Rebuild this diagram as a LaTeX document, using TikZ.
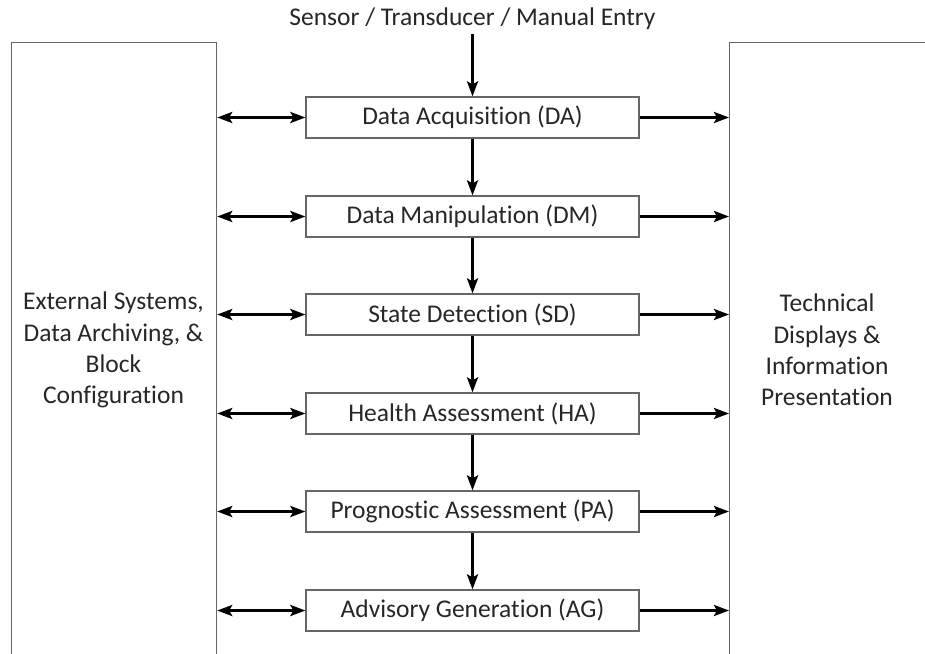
\documentclass[tikz,border=0pt]{standalone}
\usepackage{fontspec}
\setmainfont{Carlito}[Ligatures=NoCommon]
\usetikzlibrary{arrows.meta}
\begin{document}
\begin{tikzpicture}[x=1pt,y=-1pt,
  every node/.style={font=\fontsize{25.5}{31.3}\selectfont, text=black!85},
  stage/.style={draw=black!60, line width=1.2pt, minimum width=333pt, minimum height=41pt, inner sep=0pt, anchor=center},
  panel/.style={draw=black!60, line width=1.2pt, inner sep=0pt, anchor=north west},
  flow/.style={line width=2.8pt, -{Stealth[length=15pt,width=11pt,inset=3pt]}},
  both/.style={line width=2.8pt, {Stealth[length=15pt,width=11pt,inset=3pt]}-{Stealth[length=15pt,width=11pt,inset=3pt]}}]
\useasboundingbox (0,0) rectangle (925,653);
\clip (0,0) rectangle (925,653);
\node[panel, minimum width=205pt, minimum height=700pt] (left) at (11,42) {};
\node[panel, minimum width=260pt, minimum height=700pt] (right) at (729,42) {};
\node[align=center] (lefttext) at (113.5,350) {External Systems,\\Data Archiving, \&\\Block\\Configuration};
\node[align=center] (righttext) at (827,350) {Technical\\Displays \&\\Information\\Presentation};
\node (src) at (472.5,19) {Sensor / Transducer / Manual Entry};
\node[stage] (da) at (472.5,117.5) {Data Acquisition (DA)};
\node[stage] (dm) at (472.5,216.5) {Data Manipulation (DM)};
\node[stage] (sd) at (472.5,314.5) {State Detection (SD)};
\node[stage] (ha) at (472.5,413.5) {Health Assessment (HA)};
\node[stage] (pa) at (472.5,511.5) {Prognostic Assessment (PA)};
\node[stage] (ag) at (472.5,610.5) {Advisory Generation (AG)};
\draw[flow] (472.5,34) -- (da.north);
\draw[flow] (da) -- (dm);
\draw[flow] (dm) -- (sd);
\draw[flow] (sd) -- (ha);
\draw[flow] (ha) -- (pa);
\draw[flow] (pa) -- (ag);
\foreach \s in {da,dm,sd,ha,pa,ag}{
  \draw[both] (left.east |- \s.west) -- (\s.west);
  \draw[flow] (\s.east) -- (right.west |- \s.east);
}
\end{tikzpicture}
\end{document}
